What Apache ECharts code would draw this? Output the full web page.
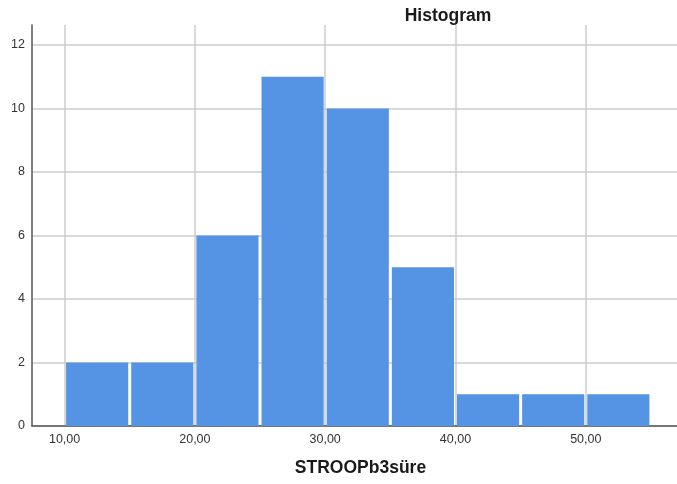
<!DOCTYPE html>
<html>
<head>
<meta charset="utf-8">
<script src="https://cdn.jsdelivr.net/npm/echarts@6/dist/echarts.min.js"></script>
<style>
html,body{margin:0;padding:0;background:#fff;}
#main{width:677px;height:484px;}
</style>
</head>
<body>
<div id="main"></div>
<script>
// bin edges and counts
var binStart = [10, 15, 20, 25, 30, 35, 40, 45, 50];
var binEnd = [15, 20, 25, 30, 35, 40, 45, 50, 55];
var counts = [2, 2, 6, 11, 10, 5, 1, 1, 1];
var xTicks = [10, 20, 30, 40, 50];
var yTicks = [0, 2, 4, 6, 8, 10, 12];

var data = [];
for (var i = 0; i < counts.length; i++) {
	data.push([binStart[i], binEnd[i], counts[i]]);
}

var chart = echarts.init(document.getElementById('main'));

var option = {
	animation: false,
	title: {
		text: 'Histogram',
		left: 443,
		top: 2,
		textAlign: 'center',
		textStyle: {fontFamily: 'Liberation Sans', fontSize: 17.5, fontWeight: 'bold', color: '#1a1a1a'}
	},
	grid: {left: 32, right: 0, top: 25, bottom: 58},
	xAxis: {
		type: 'value',
		min: 7.5,
		max: 57,
		name: 'STROOPb3süre',
		nameLocation: 'middle',
		nameGap: 33,
		nameTextStyle: {fontFamily: 'Liberation Sans', fontSize: 17.5, fontWeight: 'bold', color: '#1a1a1a', padding: [0, 0, 0, 12]},
		axisLine: {show: true, lineStyle: {color: '#555', width: 1.5}},
		axisTick: {show: false, customValues: xTicks},
		axisLabel: {
			customValues: xTicks,
			fontFamily: 'Liberation Sans', fontSize: 12.5, color: '#333', margin: 7,
			formatter: function (v) { return v.toFixed(2).replace('.', ','); }
		},
		splitLine: {show: true, customValues: xTicks, lineStyle: {color: '#cccccc', width: 1.5}}
	},
	yAxis: {
		type: 'value',
		min: 0,
		max: 12.63,
		axisLine: {show: true, lineStyle: {color: '#555', width: 1.5}},
		axisTick: {show: false, customValues: yTicks},
		axisLabel: {
			customValues: yTicks,
			fontFamily: 'Liberation Sans', fontSize: 12.5, color: '#333', margin: 7
		},
		splitLine: {show: true, customValues: yTicks, lineStyle: {color: '#cccccc', width: 1.5}}
	},
	series: [{
		type: 'custom',
		renderItem: function (params, api) {
			var p0 = api.coord([api.value(0), api.value(2)]);
			var p1 = api.coord([api.value(1), 0]);
			return {
				type: 'rect',
				shape: {x: p0[0] + 1.5, y: p0[1], width: p1[0] - p0[0] - 3, height: p1[1] - p0[1]},
				style: {fill: '#5594e4'}
			};
		},
		encode: {x: [0, 1], y: 2},
		data: data
	}]
};

chart.setOption(option);
</script>
</body>
</html>
